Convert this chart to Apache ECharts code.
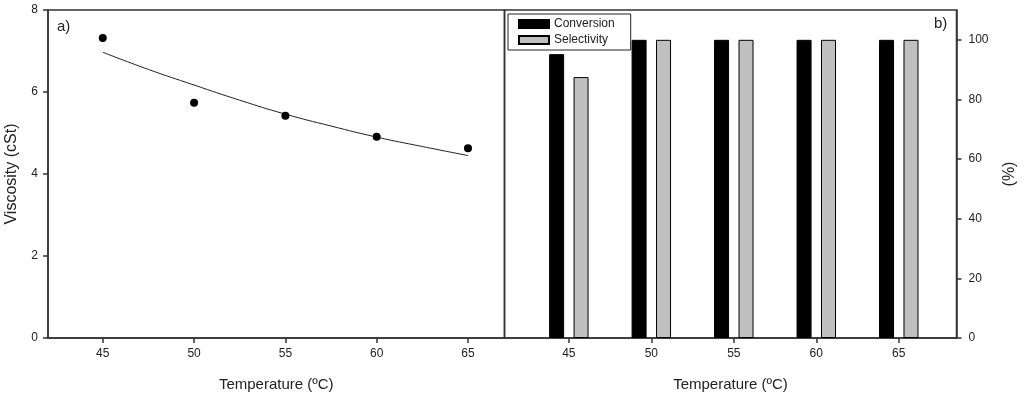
<!DOCTYPE html>
<html>
<head>
<meta charset="utf-8">
<script src="https://cdn.jsdelivr.net/npm/echarts@6/dist/echarts.min.js"></script>
<style>
html,body{margin:0;padding:0;background:#fff;}
#chart{width:1024px;height:397px;}
</style>
</head>
<body>
<div id="chart"></div>
<script>
// Data
const temperatures = [45, 50, 55, 60, 65];
const viscosity = [7.32, 5.74, 5.42, 4.91, 4.63];
const fitTemps = [45, 47.5, 50, 52.5, 55, 57.5, 60, 62.5, 65];
const fitViscosity = [6.97, 6.55, 6.17, 5.80, 5.46, 5.17, 4.90, 4.67, 4.45];
const conversion = [95.2, 100, 100, 100, 100];
const selectivity = [87.5, 100, 100, 100, 100];
const leftYTicks = [0, 2, 4, 6, 8];
const rightYTicks = [0, 20, 40, 60, 80, 100];
const xTicks = [45, 50, 55, 60, 65];

const FONT = '"Liberation Sans", Arial, sans-serif';
const TXT = '#222';
const AX = '#333';

const chart = echarts.init(document.getElementById('chart'), null, {renderer: 'canvas'});

const axisLineStyle = {show: true, lineStyle: {color: AX, width: 1.5}};
const tickStyle = {show: true, length: 5, inside: false, lineStyle: {color: AX, width: 1.5}};
const labelFont = {color: TXT, fontFamily: FONT, fontSize: 12};

const option = {
  animation: false,
  backgroundColor: '#fff',
  textStyle: {fontFamily: FONT},
  grid: [
    {left: 48, right: 519.5, top: 10, bottom: 58.3, show: true, borderColor: AX, borderWidth: 1.5, containLabel: false},
    {left: 504.5, right: 67.5, top: 10, bottom: 57.7, show: true, borderColor: AX, borderWidth: 1.5, containLabel: false}
  ],
  legend: {
    data: ['Conversion', 'Selectivity'],
    orient: 'vertical',
    left: 508, top: 14,
    itemWidth: 30, itemHeight: 8, itemGap: 2,
    padding: [3, 16, 3, 10],
    borderColor: '#222', borderWidth: 1,
    textStyle: {color: TXT, fontFamily: FONT, fontSize: 12, lineHeight: 14},
    icon: 'rect'
  },
  xAxis: [
    {
      type: 'value', gridIndex: 0, min: 42, max: 67,
      axisLine: axisLineStyle,
      axisTick: Object.assign({customValues: xTicks}, tickStyle),
      axisLabel: Object.assign({customValues: xTicks, margin: 10}, labelFont),
      splitLine: {show: false},
      name: 'Temperature (ºC)', nameLocation: 'middle', nameGap: 39,
      nameTextStyle: {color: TXT, fontFamily: FONT, fontSize: 15}
    },
    {
      type: 'value', gridIndex: 1, min: 41.1, max: 68.5,
      axisLine: axisLineStyle,
      axisTick: Object.assign({customValues: xTicks}, tickStyle),
      axisLabel: Object.assign({customValues: xTicks, margin: 10}, labelFont),
      splitLine: {show: false},
      name: 'Temperature (ºC)', nameLocation: 'middle', nameGap: 39,
      nameTextStyle: {color: TXT, fontFamily: FONT, fontSize: 15}
    }
  ],
  yAxis: [
    {
      type: 'value', gridIndex: 0, min: 0, max: 8, interval: 2,
      axisLine: axisLineStyle, axisTick: tickStyle,
      axisLabel: Object.assign({customValues: leftYTicks, margin: 10}, labelFont),
      splitLine: {show: false},
      name: 'Viscosity (cSt)', nameLocation: 'middle', nameGap: 28,
      nameTextStyle: {color: TXT, fontFamily: FONT, fontSize: 16}
    },
    {
      type: 'value', gridIndex: 1, position: 'right', min: 0, max: 110,
      axisLine: axisLineStyle,
      axisTick: Object.assign({customValues: rightYTicks}, tickStyle),
      axisLabel: Object.assign({customValues: rightYTicks, margin: 12}, labelFont),
      splitLine: {show: false},
      name: '(%)', nameLocation: 'middle', nameGap: 45, nameRotate: 90,
      nameTextStyle: {color: TXT, fontFamily: FONT, fontSize: 16}
    }
  ],
  series: [
    {
      type: 'line', xAxisIndex: 0, yAxisIndex: 0, smooth: true, showSymbol: false, symbol: 'none',
      data: fitTemps.map((t, i) => [t, fitViscosity[i]]),
      lineStyle: {color: '#222', width: 1}, silent: true, z: 2
    },
    {
      type: 'scatter', xAxisIndex: 0, yAxisIndex: 0, symbol: 'circle', symbolSize: 8,
      data: temperatures.map((t, i) => [t, viscosity[i]]),
      itemStyle: {color: '#000', opacity: 1}, z: 3
    },
    {
      name: 'Conversion', type: 'bar', xAxisIndex: 1, yAxisIndex: 1,
      barWidth: 15, barGap: '63%',
      data: temperatures.map((t, i) => [t, conversion[i]]),
      itemStyle: {color: '#000', borderColor: '#000', borderWidth: 1}
    },
    {
      name: 'Selectivity', type: 'bar', xAxisIndex: 1, yAxisIndex: 1,
      barWidth: 15, barGap: '63%',
      data: temperatures.map((t, i) => [t, selectivity[i]]),
      itemStyle: {color: '#c0c0c0', borderColor: '#000', borderWidth: 1}
    }
  ],
  graphic: [
    {type: 'text', left: 57, top: 19, style: {text: 'a)', fill: TXT, font: '15px ' + FONT}},
    {type: 'text', left: 934, top: 16, style: {text: 'b)', fill: TXT, font: '15px ' + FONT}}
  ]
};
chart.setOption(option);
</script>
</body>
</html>
